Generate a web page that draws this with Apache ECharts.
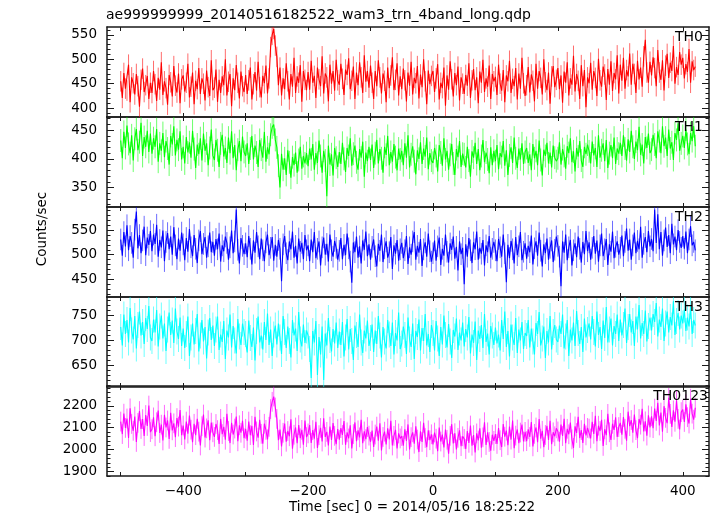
<!DOCTYPE html>
<html><head><meta charset="utf-8">
<script src="https://cdn.jsdelivr.net/npm/echarts@6/dist/echarts.min.js"></script>
<style>html,body{margin:0;padding:0;background:#fff}#c{width:717px;height:516px}</style>
</head><body><div id="c"></div>
<script>
const titleText = 'ae999999999_20140516182522_wam3_trn_4band_long.qdp';
const xTitle = 'Time [sec] 0 = 2014/05/16 18:25:22';
const yTitle = 'Counts/sec';
const tStart = -500, binSec = 2.5;
const bandNames = ['TH0', 'TH1', 'TH2', 'TH3', 'TH0123'];
const bandColors = ['#ff0000', '#00ff00', '#0000ff', '#00ffff', '#ff00ff'];

// one row = 50 s (20 bins of 2.5 s), first row starts at t = -500 s
const th0 = [
455,421,472,440,436,489,412,463,451,428,470,445,403,458,481,433,447,466,419,452,
431,476,449,415,462,438,494,427,455,441,407,468,453,424,486,446,432,471,410,459,
467,434,452,491,422,444,473,408,456,439,482,429,461,450,416,477,443,425,498,437,
442,479,413,458,431,465,447,500,426,454,470,404,461,437,488,452,420,475,445,433,
468,429,457,483,418,449,474,436,495,443,422,466,451,487,430,461,525,550,562,528,
505,447,483,426,461,439,492,455,418,470,444,503,431,465,452,488,413,476,458,437,
474,438,497,452,466,421,483,459,445,506,430,471,463,414,489,450,476,436,499,457,
448,491,460,427,479,468,502,439,456,485,419,473,447,494,463,431,508,454,476,442,
487,452,419,476,445,498,463,430,471,456,412,483,441,467,504,437,458,492,426,465,
439,481,457,414,473,446,495,428,462,451,486,420,469,443,500,455,408,477,449,466,
476,433,461,490,418,452,441,483,405,467,438,496,459,424,472,447,485,416,463,450,
429,468,446,492,421,457,480,437,463,410,475,452,499,433,461,444,487,419,470,455,
464,427,489,450,436,478,412,467,455,497,431,460,445,482,418,471,440,503,451,425,
447,484,432,469,456,414,491,440,476,462,428,500,453,437,473,409,465,486,443,458,
482,439,467,411,475,452,494,426,461,448,507,434,470,456,419,488,445,478,402,463,
451,493,438,476,462,425,501,457,444,485,469,417,480,448,496,435,472,459,508,430,
489,456,503,440,478,465,512,448,491,470,431,497,459,483,444,506,540,473,452,495,
467,504,482,445,519,473,458,498,436,487,511,462,493,476,527,450,484,468,515,489,
503,461,490,474,521,452,496,478,485];

const th1 = [
432,401,447,419,458,426,410,441,397,435,452,415,429,463,405,438,421,449,412,444,
409,436,421,452,395,427,414,445,403,431,418,390,440,425,457,406,433,416,448,399,
421,392,438,411,429,402,449,417,384,425,408,436,397,444,414,427,389,419,451,406,
398,433,415,386,427,442,404,419,393,437,410,448,401,424,380,416,431,396,439,412,
405,427,391,418,440,399,423,411,386,433,416,402,447,395,420,408,442,455,460,433,
420,388,350,409,381,401,372,415,394,367,403,389,411,376,398,421,383,405,392,410,
387,418,399,426,381,410,393,432,405,376,414,397,335,423,390,408,371,419,402,386,
412,391,428,400,377,419,405,436,388,409,423,394,381,417,402,430,369,411,396,421,
398,425,384,410,433,392,417,401,376,421,407,440,389,412,395,426,403,380,418,399,
414,389,427,402,441,385,408,422,396,373,415,400,429,391,418,404,437,382,410,397,
393,419,405,378,424,411,388,436,399,414,381,407,426,392,372,417,403,431,386,409,
408,385,421,397,369,413,402,428,391,417,380,405,433,394,411,399,375,420,389,414,
396,424,382,410,403,431,388,415,372,406,420,393,437,401,384,418,399,427,391,412,
419,393,408,380,426,401,414,389,432,398,371,416,405,428,392,411,385,423,402,396,
401,429,390,417,405,383,422,410,436,394,413,378,419,404,431,397,386,421,408,425,
413,392,430,406,419,386,441,402,415,427,396,433,384,410,424,401,437,391,418,409,
428,405,441,418,397,434,412,449,421,400,430,415,456,407,425,392,438,419,444,410,
416,442,425,401,448,431,410,457,422,437,405,451,418,429,398,445,433,462,414,427,
440,419,451,426,408,445,431,457,422];

const th2 = [
531,498,546,517,560,509,538,524,494,551,588,513,540,503,529,557,499,535,520,548,
507,541,522,561,496,530,515,549,487,526,544,511,537,500,556,519,491,533,508,545,
521,489,534,506,552,515,497,540,512,483,529,548,501,522,536,494,517,545,505,526,
498,532,511,543,486,519,507,537,524,490,515,549,503,527,592,510,482,534,518,501,
523,495,538,512,480,529,504,546,517,491,533,509,487,525,541,499,514,536,488,520,
496,530,512,446,521,538,503,489,527,511,547,494,518,482,533,506,524,491,540,509,
519,487,531,505,546,493,512,527,478,515,535,500,522,486,541,509,496,528,514,490,
508,534,491,520,499,543,513,486,443,525,505,537,494,517,482,529,510,547,497,521,
490,516,531,497,476,522,508,541,485,513,527,494,505,536,471,519,502,530,488,511,
524,493,509,538,481,515,500,527,546,490,518,504,532,477,511,525,496,543,507,486,
503,529,488,517,535,479,512,498,541,506,484,523,510,537,492,516,468,527,501,514,
440,521,496,534,509,483,525,511,547,490,514,502,530,478,519,505,538,494,512,526,
509,487,532,515,496,541,503,444,520,493,528,511,482,536,499,517,546,489,506,523,
492,518,505,539,480,513,527,498,545,508,476,521,503,533,490,514,529,485,510,537,
518,496,436,527,504,541,489,515,530,478,509,523,495,537,512,484,526,501,548,507,
525,490,514,538,502,529,486,519,543,497,511,532,479,521,506,547,493,516,527,500,
514,539,497,526,553,508,531,490,519,545,503,528,511,557,494,522,536,505,548,517,
532,507,592,524,582,511,546,498,529,555,516,540,503,563,521,537,509,550,526,514,
538,512,547,503,531,558,519,526,509];

const th3 = [
726,689,751,712,740,695,764,719,701,748,683,730,757,709,736,692,744,722,768,705,
698,741,715,760,687,727,749,703,733,678,721,755,710,739,694,763,717,702,745,688,
723,684,712,747,668,705,733,691,718,752,677,709,740,697,726,663,715,744,700,729,
688,721,747,680,711,696,738,662,719,705,751,685,728,699,673,742,707,690,733,716,
712,675,739,704,686,725,659,718,747,695,709,681,736,700,753,690,721,668,711,729,
691,733,705,672,748,716,684,727,698,665,740,709,723,678,756,701,687,731,694,719,
709,682,624,718,695,738,630,706,671,727,620,713,689,744,700,677,722,693,735,684,
717,690,736,667,705,742,681,722,698,660,729,710,686,751,695,674,719,703,739,688,
704,731,676,719,692,748,709,665,726,697,683,740,711,688,735,671,714,699,755,682,
693,727,710,672,745,701,686,733,662,718,706,741,679,724,698,752,689,712,676,730,
714,679,738,703,668,726,691,749,710,685,732,697,664,720,707,743,680,715,699,735,
687,722,705,746,673,711,694,737,660,719,702,730,684,752,696,713,671,728,709,690,
725,693,711,679,740,702,757,686,718,667,731,705,690,744,674,721,699,736,682,714,
708,740,685,723,697,671,734,712,756,689,703,727,664,718,695,748,681,716,730,701,
696,729,712,751,683,707,740,668,721,699,735,688,758,714,692,726,676,743,705,720,
733,701,748,716,687,757,710,726,682,739,704,766,695,721,743,689,728,712,751,698,
741,709,730,763,694,726,752,715,738,688,747,721,770,703,734,712,759,697,728,745,
719,752,736,774,707,741,726,763,698,733,757,715,746,729,778,710,738,754,721,749,
733,761,718,745,727,768,712,740,729];

const th0123 = [
2128,2071,2164,2099,2142,2053,2188,2117,2086,2151,2035,2122,2176,2094,2139,2062,2158,2108,2201,2080,
2093,2147,2061,2125,2178,2076,2114,2042,2159,2101,2133,2049,2168,2088,2120,2057,2144,2105,2180,2066,
2110,2047,2128,2073,2155,2091,2034,2118,2066,2141,2082,2019,2107,2160,2055,2097,2134,2043,2123,2079,
2058,2117,2089,2026,2140,2071,2104,2045,2163,2085,2030,2122,2069,2096,2151,2038,2111,2077,2131,2052,
2095,2041,2128,2066,2109,2021,2150,2083,2055,2136,2072,2027,2118,2090,2047,2104,2185,2218,2242,2192,
2140,2043,2092,2015,2077,2119,2036,2085,2061,2138,2004,2068,2101,2029,2112,2052,2090,2023,2133,2057,
2074,2112,2031,2089,2050,2127,2008,2066,2099,2037,2143,2058,2081,2019,2105,2044,2121,2063,2025,2094,
2045,2098,2067,2130,2022,2079,2051,2111,2006,2071,2124,2039,2088,2056,2136,2029,2083,2048,2103,2064,
2036,2087,2012,2069,2105,2041,2120,1996,2058,2082,2024,2097,2047,2131,2019,2063,2090,2005,2074,2051,
2062,2018,2093,2040,2115,2001,2057,2079,2027,2106,2046,1989,2084,2035,2122,2053,2011,2088,2043,2070,
2024,2078,2050,1993,2101,2037,2069,2010,2092,2045,1982,2063,2116,2028,2075,2001,2054,2088,2016,2061,
2049,2003,2085,2031,2110,2018,2066,1987,2074,2042,2097,2009,2056,2125,2021,2079,2035,1995,2068,2040,
2071,2026,2098,2043,2012,2117,2059,2087,2020,2105,2046,2133,2007,2064,2092,2030,2078,2114,2037,2081,
2039,2093,2058,2126,2015,2072,2101,2034,2140,2050,2086,2011,2067,2109,2044,2132,2025,2079,2061,2097,
2083,2036,2114,2062,2141,2029,2095,2070,2123,2047,2008,2106,2076,2150,2053,2089,2031,2118,2065,2099,
2096,2051,2127,2072,2154,2038,2109,2085,2136,2017,2093,2066,2163,2079,2044,2118,2090,2147,2058,2103,
2122,2068,2149,2095,2041,2173,2107,2135,2077,2160,2089,2052,2140,2114,2186,2083,2129,2064,2156,2101,
2152,2098,2187,2131,2214,2110,2169,2082,2198,2145,2121,2236,2163,2104,2179,2127,2225,2140,2092,2171,
2183,2126,2207,2148,2119,2232,2164,2137,2191];

// 1-sigma error (counts/sec) for each band
const th0Err = 21, th1Err = 20, th2Err = 22, th3Err = 26, th0123Err = 45;

const xMin = -522, xMax = 442;
const xTicks = [-500, -400, -300, -200, -100, 0, 100, 200, 300, 400];
const xLabels = [-400, -200, 0, 200, 400];
const yRanges = [[382, 566], [316, 473], [414, 597], [606, 786], [1880, 2290]];
const yMajor = [[400, 450, 500, 550], [350, 400, 450], [450, 500, 550], [650, 700, 750], [1900, 2000, 2100, 2200]];
const yMinorStep = [10, 10, 10, 10, 20];

const bandValues = [th0, th1, th2, th3, th0123];
const bandErrs = [th0Err, th1Err, th2Err, th3Err, th0123Err];

const FONT = 'DejaVu Sans';
const gridLeft = 107, gridWidth = 602, gridH = 90;
const gridTops = [27, 117, 207, 297, 386];
const axisColor = '#1a1a1a';
const axLine = {show: true, onZero: false, lineStyle: {color: axisColor, width: 1.5}};
const noLine = {show: false, onZero: false};

function minorTicks(i) {
  const [lo, hi] = yRanges[i];
  const s = yMinorStep[i];
  const out = [];
  for (let v = Math.ceil(lo / s) * s; v <= hi; v += s) {
    if (yMajor[i].indexOf(v) < 0) out.push(v);
  }
  return out;
}

const grid = [], xAxis = [], yAxis = [], series = [], title = [];
title.push({text: titleText, left: 106, top: 8, padding: 0,
  textStyle: {fontFamily: FONT, fontSize: 14, fontWeight: 'normal', color: '#000'}});

bandNames.forEach((name, i) => {
  grid.push({left: gridLeft, top: gridTops[i], width: gridWidth, height: gridH,
    containLabel: false, outerBoundsMode: 'none'});
  xAxis.push({gridIndex: i, type: 'value', min: xMin, max: xMax, position: 'bottom',
    axisLine: axLine,
    axisTick: {show: true, inside: true, length: 4, customValues: xTicks, lineStyle: {color: axisColor, width: 1}},
    axisLabel: {show: i === 4, customValues: xLabels, margin: 8, color: '#000', fontFamily: FONT, fontSize: 13.5,
      formatter: v => String(v).replace('-', '\u2212')},
    splitLine: {show: false}});
  xAxis.push({gridIndex: i, type: 'value', min: xMin, max: xMax, position: 'top',
    axisLine: axLine,
    axisTick: {show: true, inside: true, length: 4, customValues: xTicks, lineStyle: {color: axisColor, width: 1}},
    axisLabel: {show: false}, splitLine: {show: false}});
  const [lo, hi] = yRanges[i];
  const base = {gridIndex: i, type: 'value', min: lo, max: hi, splitLine: {show: false}};
  yAxis.push(Object.assign({}, base, {position: 'left', axisLine: axLine,
    axisTick: {show: true, inside: true, length: 7, customValues: yMajor[i], lineStyle: {color: axisColor, width: 1}},
    axisLabel: {show: true, customValues: yMajor[i], margin: 10, color: '#000', fontFamily: FONT, fontSize: 13.5,
      formatter: v => String(v)}}));
  yAxis.push(Object.assign({}, base, {position: 'right', axisLine: axLine,
    axisTick: {show: true, inside: true, length: 7, customValues: yMajor[i], lineStyle: {color: axisColor, width: 1}},
    axisLabel: {show: false}}));
  const mt = minorTicks(i);
  yAxis.push(Object.assign({}, base, {position: 'left', axisLine: noLine,
    axisTick: {show: true, inside: true, length: 3.5, customValues: mt, lineStyle: {color: axisColor, width: 1}},
    axisLabel: {show: false}}));
  yAxis.push(Object.assign({}, base, {position: 'right', axisLine: noLine,
    axisTick: {show: true, inside: true, length: 3.5, customValues: mt, lineStyle: {color: axisColor, width: 1}},
    axisLabel: {show: false}}));

  const vals = bandValues[i];
  const err = bandErrs[i];
  const color = bandColors[i];
  const pts = vals.map((v, k) => [tStart + k * binSec, v, err]);
  series.push({type: 'custom', name: name + ' err', xAxisIndex: 2 * i, yAxisIndex: 4 * i, clip: true,
    silent: true, animation: false, data: pts, encode: {x: 0, y: 1},
    renderItem: (params, api) => {
      const x = api.value(0), y = api.value(1), e = api.value(2);
      const p1 = api.coord([x, y - e]), p2 = api.coord([x, y + e]);
      return {type: 'line', shape: {x1: p1[0], y1: p1[1], x2: p2[0], y2: p2[1]},
        style: {stroke: color, lineWidth: 1, opacity: 0.58}};
    }});
  series.push({type: 'line', name: name, xAxisIndex: 2 * i, yAxisIndex: 4 * i, data: pts.map(p => [p[0], p[1]]),
    showSymbol: false, symbol: 'none', sampling: null, clip: true, silent: true, animation: false,
    color: color, lineStyle: {color: color, width: 1.1}});
  title.push({text: name, right: i === 4 ? 9 : 14, top: gridTops[i] + 3, padding: 0,
    textStyle: {fontFamily: FONT, fontSize: 14, fontWeight: 'normal', color: '#000'}});
});

const bad = bandValues.map((a, i) => a.length === 369 ? '' : bandNames[i] + ':' + a.length).filter(s => s).join(' ');

const chart = echarts.init(document.getElementById('c'), null, {renderer: 'canvas'});
const graphic = [
  {type: 'text', x: 42, y: 229, rotation: Math.PI / 2, silent: true,
    style: {text: yTitle, fontFamily: FONT, fontSize: 13.5, fill: '#000', align: 'center', verticalAlign: 'middle'}},
  {type: 'text', x: 412, y: 507, silent: true,
    style: {text: xTitle, fontFamily: FONT, fontSize: 13.5, fill: '#000', align: 'center', verticalAlign: 'middle'}}
];
if (bad) graphic.push({type: 'text', x: 560, y: 5, style: {text: bad, fill: '#f00', fontSize: 12}});
chart.setOption({
  animation: false,
  backgroundColor: '#fff',
  title: title,
  grid: grid, xAxis: xAxis, yAxis: yAxis, series: series,
  graphic: graphic
});
</script></body></html>
